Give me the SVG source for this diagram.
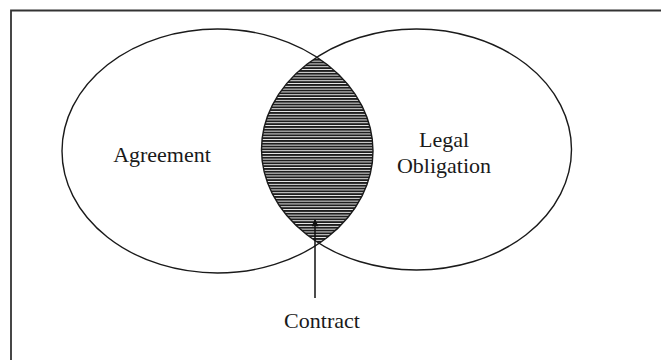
<svg xmlns="http://www.w3.org/2000/svg" width="661" height="360" viewBox="0 0 661 360">
<style>
.ell{fill:none;stroke:#1a1a1a;stroke-width:1.4}
.lbl{font-family:"Liberation Serif","Times New Roman",serif;font-size:22px;fill:#1a1a1a}
.frame{stroke:#333;stroke-width:1.8;fill:none}
</style>
<defs>
<pattern id="hatch" patternUnits="userSpaceOnUse" width="10" height="2.8">
<rect width="10" height="2.8" fill="#f4f4f4"/>
<rect y="0" width="10" height="1.9" fill="#1e1e1e"/>
</pattern>
<clipPath id="clipL"><ellipse cx="217.5" cy="151" rx="155.5" ry="122"/></clipPath>
<clipPath id="clipR"><ellipse cx="416.5" cy="149.5" rx="155" ry="120.5"/></clipPath>
<marker id="arr" viewBox="0 0 10 10" refX="9" refY="5" markerWidth="8" markerHeight="7" orient="auto" markerUnits="userSpaceOnUse">
<path d="M0,0 L10,5 L0,10 z" fill="#111"/>
</marker>
</defs>
<g id="frame">
<path class="frame" d="M11,360 L11,10.5 L661,10.5"/>
</g>
<g id="contract-region">
<g clip-path="url(#clipL)">
<rect x="250" y="40" width="140" height="220" fill="url(#hatch)" clip-path="url(#clipR)"/>
</g>
</g>
<g id="agreement">
<ellipse class="ell" cx="217.5" cy="151" rx="155.5" ry="122"/>
<text class="lbl" x="162" y="162" text-anchor="middle">Agreement</text>
</g>
<g id="legal-obligation">
<ellipse class="ell" cx="416.5" cy="149.5" rx="155" ry="120.5"/>
<text class="lbl" x="444" y="147" text-anchor="middle">Legal</text>
<text class="lbl" x="444" y="173" text-anchor="middle">Obligation</text>
</g>
<g id="connectors">
<line x1="315" y1="298" x2="315" y2="220" stroke="#111" stroke-width="1.5" marker-end="url(#arr)"/>
</g>
<g id="contract">
<text class="lbl" x="322" y="328" text-anchor="middle">Contract</text>
</g>
</svg>
